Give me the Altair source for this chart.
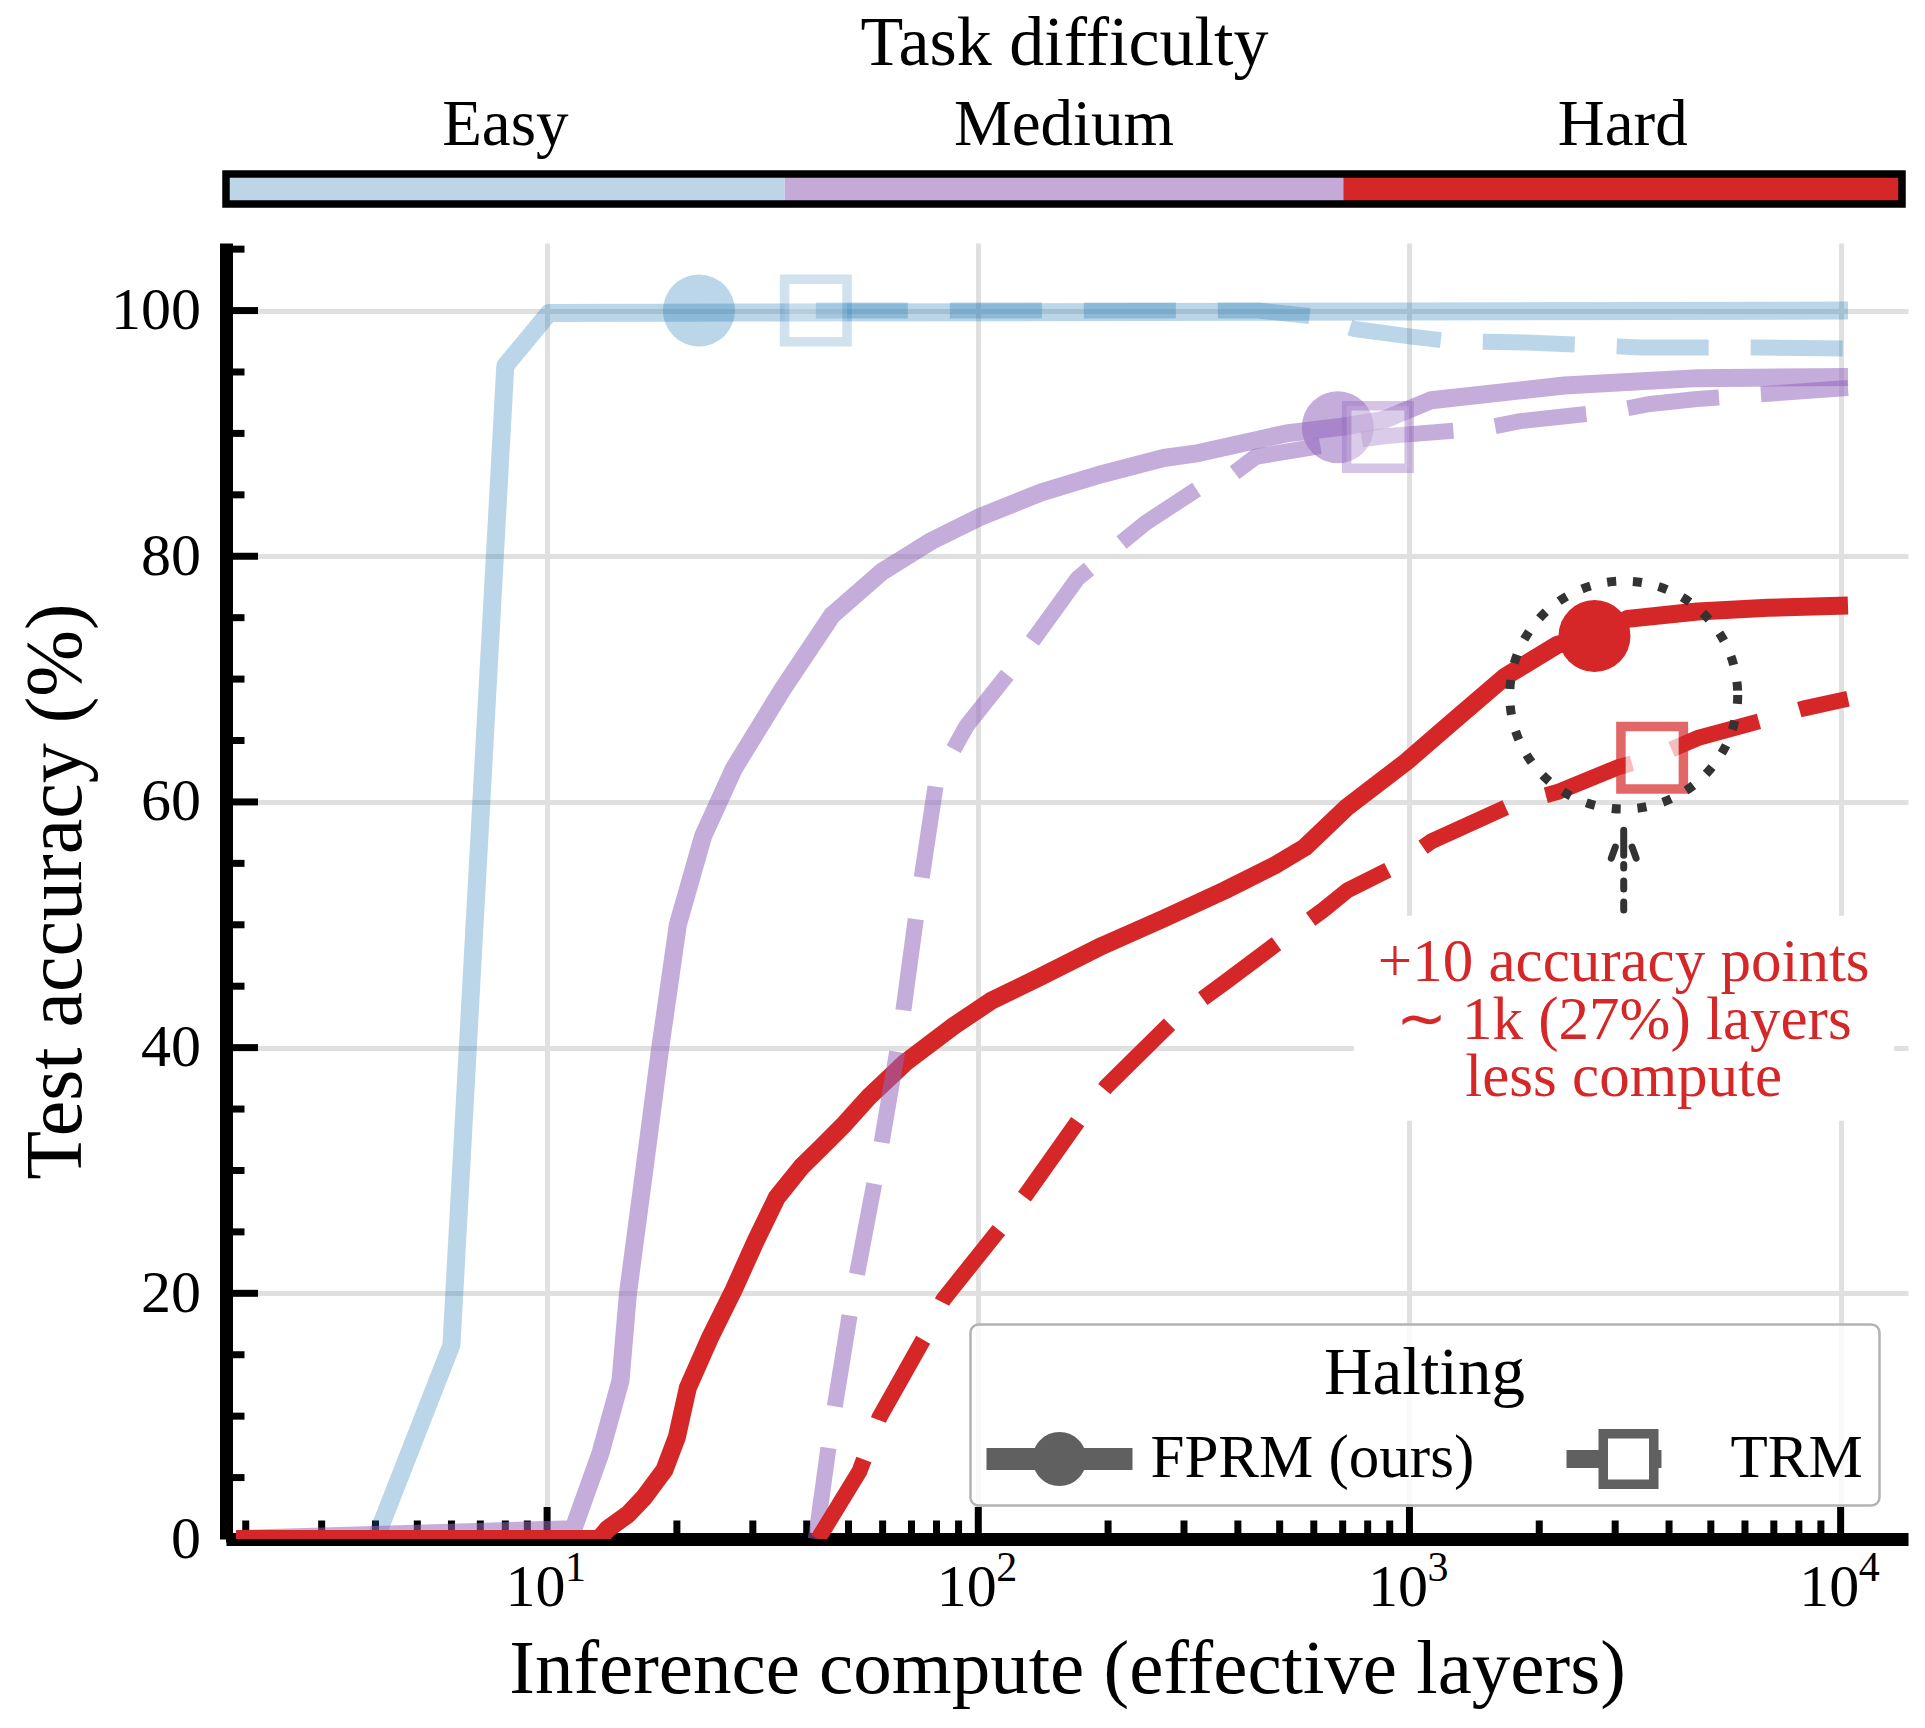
import altair as alt
import pandas as pd

# ---------------- data ----------------
difficulties = ["Easy", "Medium", "Hard"]
halting = ["FPRM (ours)", "TRM"]
line_colors = ["#1f77b4", "#9467bd", "#d62728"]
line_alpha = [0.3, 0.55, 1.0]
bar_colors = ["#bcd6e8", "#c5aad8", "#d62728"]

easy_fprm_x = [1.9, 4.0, 6.0, 8.0, 10.1, 10400]
easy_fprm_y = [0, 0, 15.8, 95.5, 99.8, 100]

easy_trm_x = [42, 446, 608, 745, 1000, 1245, 1866, 3444, 6360, 10400]
easy_trm_y = [100, 100, 99.5, 98.5, 97.9, 97.5, 97.4, 97.0, 97.0, 96.9]

medium_fprm_x = [1.9, 11.5, 13.3, 14.8, 15.4, 16.8, 18.3, 20.1, 23.0, 27.1, 35.2, 45.8,
                 59.6, 77.4, 101, 140, 194, 269, 324, 518, 682, 871, 1122, 2286, 4660, 10400]
medium_fprm_y = [0, 0.8, 7.0, 12.9, 20, 30, 40, 50, 57.2, 62.7, 69.2, 75.2,
                 78.7, 81.2, 83.2, 85.2, 86.7, 88.0, 88.4, 90.0, 90.5, 91.1, 92.7, 93.9, 94.5, 94.6]

medium_trm_x = [42, 45.4, 51.0, 58.3, 65.9, 72.6, 80, 94, 122, 170, 244, 323, 373, 440,
                706, 845, 897, 1476, 1808, 2953, 3614, 4645, 10400]
medium_trm_y = [0, 8.6, 19.5, 30.2, 41.1, 52, 61.8, 66.2, 71.2, 78.2, 82.7, 85.5, 86.2, 88.1,
                89.3, 89.7, 89.8, 90.4, 91.0, 91.8, 92.4, 92.8, 93.7]

hard_fprm_x = [1.9, 13.2, 13.8, 15.4, 16.8, 18.7, 20.0, 21.2, 23.8, 27.1, 30.5, 34.1, 38.9,
               43, 49, 55.8, 67.8, 88, 107, 140, 194, 269, 373, 485, 572, 718, 986, 1256,
               1667, 2204, 2686, 3206, 4660, 6780, 10400]
hard_fprm_y = [0, 0, 0.8, 2.0, 3.4, 5.6, 8.3, 12.3, 16.3, 20.3, 24.3, 27.8, 30.3,
               31.8, 33.8, 36.0, 38.8, 41.8, 43.8, 45.8, 48.3, 50.5, 52.8, 54.8, 56.3, 59.6, 63.3, 66.5,
               70.2, 72.8, 73.5, 74.9, 75.5, 75.8, 76.0]

hard_trm_x = [42.5, 53, 59, 75, 83, 112.5, 130, 172.6, 199, 285, 373, 485, 631, 718, 933,
              1125, 1758, 2204, 3033, 3655, 4660, 6530, 8180, 10400]
hard_trm_y = [0, 5.5, 9.9, 16.4, 19.5, 25.3, 28.2, 34.3, 36.9, 42.3, 45.3, 48.3, 51.2, 52.8, 54.8,
              56.8, 59.9, 60.8, 62.8, 63.6, 65.2, 66.6, 67.6, 68.4]

marker_fprm_x = [22.5, 682, 2686]
marker_fprm_y = [100, 90.5, 73.5]
marker_trm_x = [42, 845, 3655]
marker_trm_y = [100, 89.7, 63.6]

x_major = [10, 100, 1000, 10000]
x_exponents = ["1", "2", "3", "4"]
x_minor = [m * 10 ** k for k in range(0, 4) for m in range(2, 10)]
y_major = [0, 20, 40, 60, 80, 100]
y_minor = [v for v in range(5, 106, 5) if v % 20]

annot_lines = "+10 accuracy points\n\u223c 1k (27%) layers\nless compute"
annot_x = 3140
annot_text_y = 49.3
annot_circle_y = 68.7
annot_box = {"x1": 744, "x2": 13290, "y1": 34.05, "y2": 50.73}
arrow_y = [51.2, 54.9]
arrow_head_y = 56.4

# ---------------- layout / style ----------------
W, H = 1682, 1296
WB, HB = 1676, 30
FONT = "Liberation Serif"
RED = "#d62728"
GRID = "#e0e0e0"

xscale = alt.Scale(type="log", domain=[1.8, 14330], nice=False)
yscale = alt.Scale(domain=[0, 105.5], nice=False, zero=False)

xaxis = alt.Axis(values=x_major, labelExpr="'10'", labelOffset=-12, labelFontSize=60,
                 labelPadding=19, ticks=False, tickSize=0, labelFlush=False, labelOverlap=False,
                 domainColor="black", domainWidth=13, grid=True, gridColor=GRID, gridWidth=5,
                 title="Inference compute (effective layers)", titleFontSize=77,
                 titleFontWeight="normal", titlePadding=14, labelColor="black", titleColor="black")
yaxis = alt.Axis(values=y_major, labelFontSize=60, labelPadding=25.5, ticks=False, tickSize=0,
                 labelOverlap=False,
                 domainColor="black", domainWidth=13, grid=True, gridColor=GRID, gridWidth=5,
                 title="Test accuracy (%)", titleFontSize=80, titleFontWeight="normal",
                 titlePadding=13, labelColor="black", titleColor="black")

X = lambda f: alt.X(f, scale=xscale, axis=xaxis)
Y = lambda f: alt.Y(f, scale=yscale, axis=yaxis)

# white box behind the annotation text
box = alt.Chart(pd.DataFrame([annot_box])).mark_rect(color="white").encode(
    x=X("x1:Q"), x2="x2:Q", y=Y("y1:Q"), y2="y2:Q")

# inward ticks
def xticks(vals, length):
    return alt.Chart(pd.DataFrame({"v": vals})).mark_rule(color="black", strokeWidth=7).encode(
        x=X("v:Q"), y=alt.value(H), y2=alt.value(H - length))

def yticks(vals, length):
    return alt.Chart(pd.DataFrame({"v": vals})).mark_rule(color="black", strokeWidth=7).encode(
        y=Y("v:Q"), x=alt.value(0), x2=alt.value(length))

tick_layers = [xticks(x_major, 32), xticks(x_minor, 18.5), yticks(y_major, 32), yticks(y_minor, 18.5)]

def line_layer(xs, ys, i, dashed):
    kw = dict(color=line_colors[i], opacity=line_alpha[i], clip=True, strokeJoin="round",
              strokeCap="butt", strokeWidth=16 if dashed else 18)
    if dashed:
        kw["strokeDash"] = [92, 42]
    return alt.Chart(pd.DataFrame({"x": xs, "y": ys})).mark_line(**kw).encode(
        x=X("x:Q"), y=Y("y:Q"))

lines = [
    line_layer(easy_fprm_x, easy_fprm_y, 0, False),
    line_layer(medium_fprm_x, medium_fprm_y, 1, False),
    line_layer(hard_fprm_x, hard_fprm_y, 2, False),
    line_layer(easy_trm_x, easy_trm_y, 0, True),
    line_layer(medium_trm_x, medium_trm_y, 1, True),
    line_layer(hard_trm_x, hard_trm_y, 2, True),
]

circ_df = pd.DataFrame({"x": marker_fprm_x, "y": marker_fprm_y, "c": line_colors, "a": line_alpha})
sq_df = pd.DataFrame({"x": marker_trm_x, "y": marker_trm_y, "c": line_colors, "a": line_alpha})

circles = alt.Chart(circ_df).mark_point(shape="circle", filled=True, size=5184, strokeWidth=0).encode(
    x=X("x:Q"), y=Y("y:Q"), fill=alt.Fill("c:N", scale=None), opacity=alt.Opacity("a:Q", scale=None))
squares = alt.Chart(sq_df).mark_point(shape="square", size=3906, strokeWidth=9.5).encode(
    x=X("x:Q"), y=Y("y:Q"), stroke=alt.Stroke("c:N", scale=None), fill=alt.value("white"),
    fillOpacity=alt.FillOpacity("a:Q", scale=None), strokeOpacity=alt.StrokeOpacity("a:Q", scale=None))

# annotation
ann_circle = alt.Chart(pd.DataFrame({"x": [annot_x], "y": [annot_circle_y]})).mark_point(
    shape="circle", size=51984, filled=False, stroke="#333333", strokeWidth=9,
    strokeDash=[9, 17], opacity=1).encode(x=X("x:Q"), y=Y("y:Q"))
ann_shaft = alt.Chart(pd.DataFrame({"x": [annot_x], "y": [arrow_y[0]], "y2": [arrow_y[1]]})).mark_rule(
    color="#333333", strokeWidth=7, strokeDash=[8, 13], strokeCap="round").encode(
    x=X("x:Q"), y=Y("y:Q"), y2="y2:Q")
head_path = "M0,-0.8L0,0.45 M-0.62,0.6L-0.42,0.05 M0.62,0.6L0.42,0.05"
ann_head = alt.Chart(pd.DataFrame({"x": [annot_x], "y": [arrow_head_y]})).mark_point(
    shape=head_path, size=1600, filled=False, stroke="#333333", strokeWidth=7,
    strokeCap="round", opacity=1).encode(x=X("x:Q"), y=Y("y:Q"))
ann_text = alt.Chart(pd.DataFrame({"x": [annot_x], "y": [annot_text_y], "t": [annot_lines]})).mark_text(
    lineBreak="\n", lineHeight=57.5, align="center", baseline="top", fontSize=61, color=RED,
    font=FONT).encode(x=X("x:Q"), y=Y("y:Q"), text="t:N")

# superscript exponents of the x tick labels
expo = alt.Chart(pd.DataFrame({"v": x_major, "e": x_exponents})).mark_text(
    align="left", baseline="alphabetic", fontSize=42, dx=18, font=FONT, color="black").encode(
    x=X("v:Q"), y=alt.value(H + 41.5), text="e:N")

# legend (carried by an invisible layer); symbol paths in units of sqrt(size)/2
fprm_path = ("M-1,-0.256L2.395,-0.256L2.395,0.256L-1,0.256Z "
             "M1.326,0A0.628,0.628 0 1 1 0.07,0A0.628,0.628 0 1 1 1.326,0Z")
trm_path = ("M-1,-0.209L-0.256,-0.209L-0.256,0.209L-1,0.209Z "
            "M-0.256,-0.698L1.14,-0.698L1.14,0.698L-0.256,0.698Z "
            "M-0.035,-0.477L-0.035,0.477L0.919,0.477L0.919,-0.477Z "
            "M1.14,-0.209L1.209,-0.209L1.209,0.209L1.14,0.209Z")
leg_df = pd.DataFrame({"h": halting, "x": [100, 100], "y": [50, 50]})
legend_layer = alt.Chart(leg_df).mark_point(filled=True, opacity=0, size=7396, color="#606060").encode(
    x=X("x:Q"), y=Y("y:Q"),
    shape=alt.Shape("h:N", scale=alt.Scale(domain=halting, range=[fprm_path, trm_path]),
                    legend=alt.Legend(title="Halting", orient="none", legendX=744.5, legendY=1150.5,
                                      direction="horizontal", symbolSize=7396,
                                      symbolFillColor="#606060", symbolStrokeWidth=0,
                                      symbolOpacity=1, labelFontSize=61, labelOffset=78,
                                      labelLimit=0, titleLimit=0, columnPadding=92, padding=16,
                                      titleFontSize=67, titleFontWeight="normal",
                                      titleAnchor="middle", titleOrient="top", titlePadding=8,
                                      fillColor="rgba(255,255,255,0.8)", strokeColor="#b3b3b3",
                                      cornerRadius=8, labelColor="black", titleColor="black")))

main = alt.layer(box, *tick_layers, *lines, circles, squares, ann_circle, ann_shaft, ann_head,
                 ann_text, expo, legend_layer).properties(width=W, height=H)

# ---------------- colour bar on top ----------------
bar_df = pd.DataFrame({"d": difficulties, "c": bar_colors})
bar = alt.Chart(bar_df).mark_rect().encode(
    x=alt.X("d:N", sort=difficulties, scale=alt.Scale(paddingInner=0, paddingOuter=0),
            axis=alt.Axis(orient="top", title="Task difficulty", labelFontSize=65, labelAngle=0,
                          ticks=False, tickSize=0, domain=False, labelPadding=16, labelLimit=0,
                          titleFontSize=70, titleFontWeight="normal", titlePadding=13,
                          labelColor="black", titleColor="black")),
    color=alt.Color("c:N", scale=None))
bar_border = alt.Chart(alt.Data(values=[{}])).mark_rect(
    fillOpacity=0, stroke="black", strokeWidth=7.5).encode(
    x=alt.value(0), x2=alt.value(WB), y=alt.value(0), y2=alt.value(HB))
top = alt.layer(bar, bar_border).properties(width=WB, height=HB)

chart = alt.vconcat(top, main, spacing=35).properties(
    padding={"left": 16, "top": 8, "right": 5, "bottom": 5}
).configure(font=FONT).configure_view(stroke=None).configure_legend(strokeWidth=2.5)

chart.save("out.html", embed_options={"renderer": "svg", "actions": False})
